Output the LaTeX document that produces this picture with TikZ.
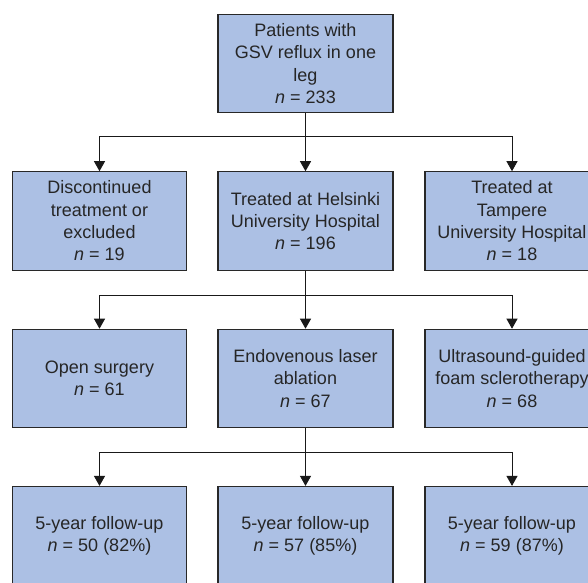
\documentclass[tikz,border=0pt]{standalone}
\usepackage{fontspec}
\setmainfont{Liberation Sans}
\usetikzlibrary{arrows.meta}
\definecolor{boxfill}{RGB}{172,192,228}
\definecolor{boxline}{RGB}{40,40,40}
\begin{document}
\begin{tikzpicture}[x=1pt,y=-1pt,
  box/.style={draw=boxline,line width=1.1pt,fill=boxfill,minimum width=174pt,minimum height=98.5pt,inner sep=0pt,align=center,font=\fontsize{18}{22.3}\selectfont,text=black!85},
  conn/.style={draw=black!90,line width=0.9pt},
  arr/.style={conn,-{Triangle[width=11pt,length=10pt]}}]
\useasboundingbox (0,0) rectangle (588,582);
\clip (0,0) rectangle (588,582);
% row 1
\node[box,minimum width=175pt] (top) at (305.5,63.5) {Patients with\\GSV reflux in one\\leg\\\textit{n} = 233};
% row 2
\node[box] (disc) at (99.5,221) {Discontinued\\treatment or\\excluded\\\textit{n} = 19};
\node[box,minimum width=175pt] (hel) at (305.5,221) {Treated at Helsinki\\University Hospital\\\textit{n} = 196};
\node[box] (tam) at (512,221) {Treated at\\Tampere\\University Hospital\\\textit{n} = 18};
% row 3
\node[box] (open) at (99.5,378.5) {Open surgery\\\textit{n} = 61};
\node[box,minimum width=175pt] (evla) at (305.5,378.5) {Endovenous laser\\ablation\\\textit{n} = 67};
\node[box] (foam) at (512,378.5) {Ultrasound-guided\\foam sclerotherapy\\\textit{n} = 68};
% row 4
\node[box] (f1) at (99.5,535.7) {5-year follow-up\\\textit{n} = 50 (82\%)};
\node[box,minimum width=175pt] (f2) at (305.5,535.7) {5-year follow-up\\\textit{n} = 57 (85\%)};
\node[box] (f3) at (512,535.7) {5-year follow-up\\\textit{n} = 59 (87\%)};
% buses
\coordinate (b1) at (305.5,136.7);
\coordinate (b2) at (305.5,295.7);
\coordinate (b3) at (305.5,452.3);
\draw[conn] (top.south) -- (b1);
\draw[arr] (b1) -| (disc.north);
\draw[arr] (b1) -- (hel.north);
\draw[arr] (b1) -| (tam.north);
\draw[conn] (hel.south) -- (b2);
\draw[arr] (b2) -| (open.north);
\draw[arr] (b2) -- (evla.north);
\draw[arr] (b2) -| (foam.north);
\draw[conn] (evla.south) -- (b3);
\draw[arr] (b3) -| (f1.north);
\draw[arr] (b3) -- (f2.north);
\draw[arr] (b3) -| (f3.north);
\end{tikzpicture}
\end{document}
